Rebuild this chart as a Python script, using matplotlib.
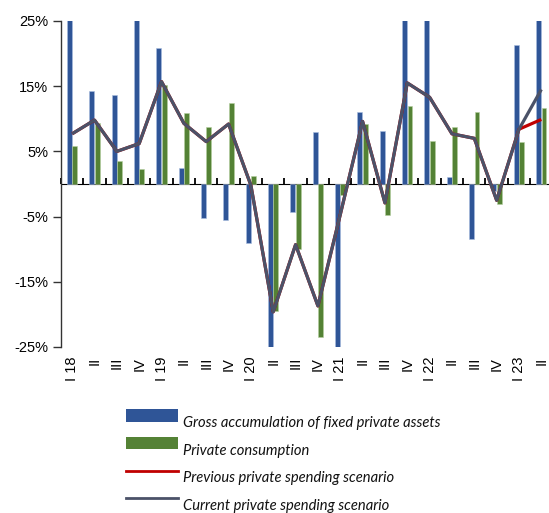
import matplotlib
matplotlib.use("Agg")
import matplotlib.pyplot as plt
import numpy as np
from matplotlib.patches import Rectangle
from matplotlib.lines import Line2D

quarters = ["I 18", "II", "III", "IV", "I 19", "II", "III", "IV", "I 20", "II", "III", "IV",
            "I 21", "II", "III", "IV", "I 22", "II", "III", "IV", "I 23", "II"]
gross_fixed = [27, 14.2, 13.6, 27, 20.9, 2.4, -5.2, -5.5, -9.1, -26, -4.3, 8.0,
               -26, 11.1, 8.1, 27, 27, 1.0, -8.5, -1.0, 21.3, 27]
consumption = [5.8, 9.4, 3.5, 2.3, 15.2, 10.9, 8.7, 12.4, 1.3, -19.5, -10.0, -23.4,
               -1.7, 9.2, -4.7, 12.0, 6.6, 8.7, 11.0, -3.0, 6.5, 11.7]
previous = [7.7, 9.8, 5.0, 6.2, 15.7, 9.3, 6.5, 9.2, -0.2, -19.6, -9.3, -18.7,
            -4.7, 9.6, -2.9, 15.5, 13.3, 7.7, 7.0, -2.5, 8.4, 9.9]
current = [7.7, 9.8, 5.0, 6.2, 15.7, 9.3, 6.5, 9.2, -0.2, -19.6, -9.3, -18.7,
           -4.7, 9.6, -2.9, 15.5, 13.3, 7.7, 7.0, -2.5, 8.4, 14.5]
yticks = [25, 15, 5, -5, -15, -25]
ytick_labels = ["25%", "15%", "5%", "-5%", "-15%", "-25%"]
legend_labels = ["Gross accumulation of fixed private assets", "Private consumption",
                 "Previous private spending scenario", "Current private spending scenario"]

BLUE = "#2f5597"
GREEN = "#548235"
RED = "#c00000"
GRAY = "#4b5268"

W, H = 549, 513
fig = plt.figure(figsize=(W / 100, H / 100), dpi=100)
left, right, top, bottom = 61, 552.5, 21, 347
ax = fig.add_axes([left / W, 1 - bottom / H, (right - left) / W, (bottom - top) / H])

n = len(quarters)
x = np.arange(n)
bw = 0.22
ax.bar(x - 0.12, gross_fixed, width=bw, color=BLUE, edgecolor="#a9bde0", linewidth=0.4, zorder=2)
ax.bar(x + 0.12, consumption, width=bw, color=GREEN, edgecolor="#b5cfa0", linewidth=0.4, zorder=2)
ax.plot(x, previous, color=RED, lw=2.3, zorder=3, solid_capstyle="butt")
ax.plot(x, current, color=GRAY, lw=2.3, zorder=4, solid_capstyle="butt")

ax.set_xlim(-0.5, n - 0.5)
ax.set_ylim(-25, 25)
for s in ["top", "right", "bottom"]:
    ax.spines[s].set_visible(False)
ax.spines["left"].set_linewidth(1.0)
ax.spines["left"].set_color("#333333")
ax.set_yticks(yticks)
ax.set_yticklabels(ytick_labels, fontsize=10.5, family="Liberation Sans")
ax.tick_params(axis="y", direction="out", length=6, width=1.0, color="#333333", pad=3)

ax.set_xticks(x)
ax.set_xticklabels(quarters, rotation=90, fontsize=10.5, family="Liberation Sans", va="top", ha="center")
ax.tick_params(axis="x", length=0, pad=7)

sec = ax.secondary_xaxis(0.5)
sec.spines["bottom"].set_linewidth(1.3)
sec.spines["bottom"].set_color("black")
sec.set_xticks(np.arange(n + 1) - 0.5)
sec.set_xticklabels([])
sec.tick_params(direction="out", length=4, width=1.3, color="black")

# legend, drawn in figure pixel coordinates
def fy(py):
    return 1 - py / H

hx0, hx1, tx = 126, 178.3, 183.3
fig.patches.append(Rectangle((hx0 / W, fy(421.7)), (hx1 - hx0) / W, 12.4 / H,
                             transform=fig.transFigure, facecolor=BLUE, edgecolor="none"))
fig.patches.append(Rectangle((hx0 / W, fy(449.3)), (hx1 - hx0) / W, 12.0 / H,
                             transform=fig.transFigure, facecolor=GREEN, edgecolor="none"))
fig.lines.append(Line2D([hx0 / W, hx1 / W], [fy(470.7), fy(470.7)], transform=fig.transFigure,
                        color=RED, lw=2))
fig.lines.append(Line2D([hx0 / W, hx1 / W], [fy(498.3), fy(498.3)], transform=fig.transFigure,
                        color=GRAY, lw=2))
for lab, base in zip(legend_labels, [426.7, 455, 481.7, 510]):
    fig.text(tx / W, fy(base), lab, ha="left", va="baseline", family="Lato", style="italic",
             fontsize=10.6, color="#111111")

fig.savefig("out.png", dpi=100)
